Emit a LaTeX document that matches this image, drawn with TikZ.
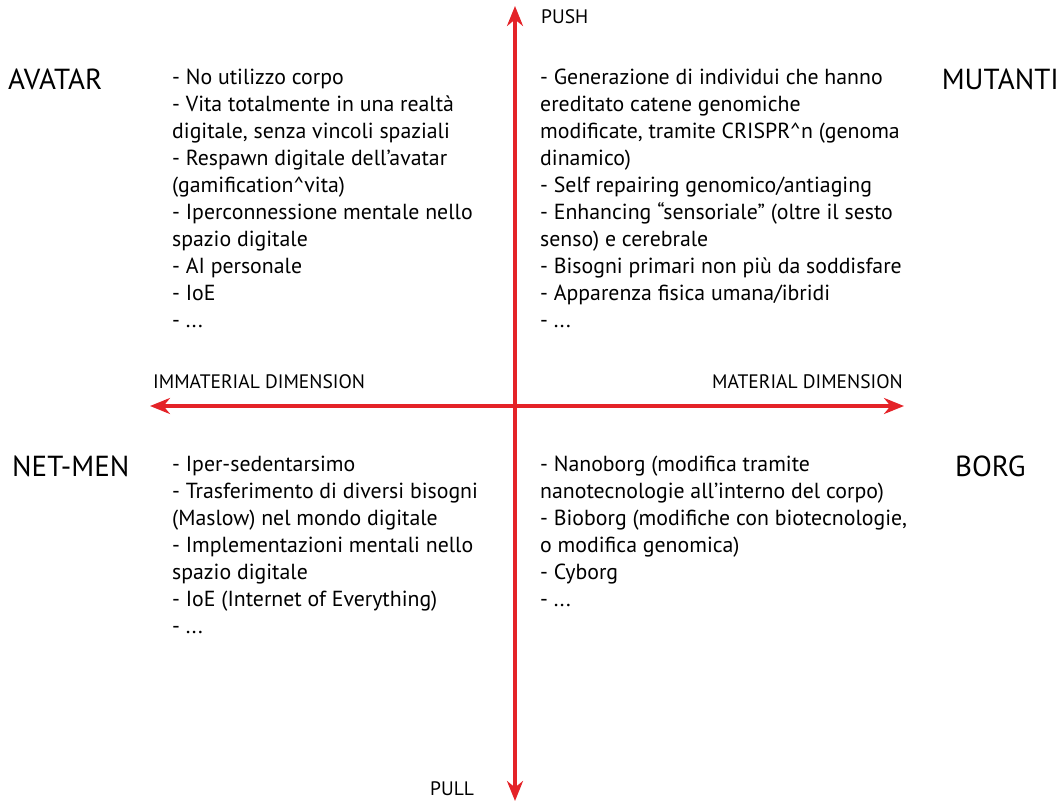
\documentclass[tikz,border=0pt]{standalone}
\usepackage{fontspec}
\setmainfont{PT Sans}
\usetikzlibrary{arrows.meta}
\definecolor{axisred}{RGB}{228,35,40}

\begin{document}
\begin{tikzpicture}[x=1pt,y=-1pt,
    axe/.style={axisred,line width=3.5pt,{Stealth[length=20pt,width=16pt]}-{Stealth[length=20pt,width=16pt]}},
    quadrant/.style={font=\fontsize{21.8}{27}\selectfont,align=left,anchor=north west,inner sep=0pt},
    titre/.style={font=\fontsize{29}{31}\selectfont,inner sep=0pt},
    axelabel/.style={font=\fontsize{19.5}{22}\selectfont,inner sep=0pt}]
    \useasboundingbox (0,0) rectangle (1062,803);

    % assi
    \coordinate (push) at (515,6);
    \coordinate (pull) at (515,801);
    \coordinate (immat) at (150,406);
    \coordinate (mat) at (904,406);
    \draw[axe] (pull) -- (push); %verticale
    \draw[axe] (immat) -- (mat); %orizzontale

    \node[axelabel,anchor=west] (lpush) at (541,17) {PUSH};
    \node[axelabel,anchor=west] (lpull) at (430,789) {PULL};
    \node[axelabel,anchor=west] (limmat) at (153,382) {IMMATERIAL DIMENSION};
    \node[axelabel,anchor=east] (lmat) at (903,382) {MATERIAL DIMENSION};

    % titoli
    \node[titre,anchor=west] (avatar) at (8,79) {AVATAR};
    \node[titre,anchor=east] (mutanti) at (1059,79) {MUTANTI};
    \node[titre,anchor=west] (netmen) at (12,466) {NET-MEN};
    \node[titre,anchor=west] (borg) at (955,466) {BORG};

    % quadranti
    \node[quadrant] (qavatar) at (172,69) {- No utilizzo corpo\\
        - Vita totalmente in una realtà\\
        digitale, senza vincoli spaziali\\
        - Respawn digitale dell’avatar\\
        (gamification\textasciicircum vita)\\
        - Iperconnessione mentale nello\\
        spazio digitale\\
        - AI personale\\
        - IoE\\
        - ...};

    \node[quadrant] (qmutanti) at (540,69) {- Generazione di individui che hanno\\
        ereditato catene genomiche\\
        modificate, tramite CRISPR\textasciicircum n (genoma\\
        dinamico)\\
        - Self repairing genomico/antiaging\\
        - Enhancing “sensoriale” (oltre il sesto\\
        senso) e cerebrale\\
        - Bisogni primari non più da soddisfare\\
        - Apparenza fisica umana/ibridi\\
        - ...};

    \node[quadrant] (qnetmen) at (172,456) {- Iper-sedentarsimo\\
        - Trasferimento di diversi bisogni\\
        (Maslow) nel mondo digitale\\
        - Implementazioni mentali nello\\
        spazio digitale\\
        - IoE (Internet of Everything)\\
        - ...};

    \node[quadrant] (qborg) at (540,456) {- Nanoborg (modifica tramite\\
        nanotecnologie all’interno del corpo)\\
        - Bioborg (modifiche con biotecnologie,\\
        o modifica genomica)\\
        - Cyborg\\
        - ...};
\end{tikzpicture}
\end{document}
